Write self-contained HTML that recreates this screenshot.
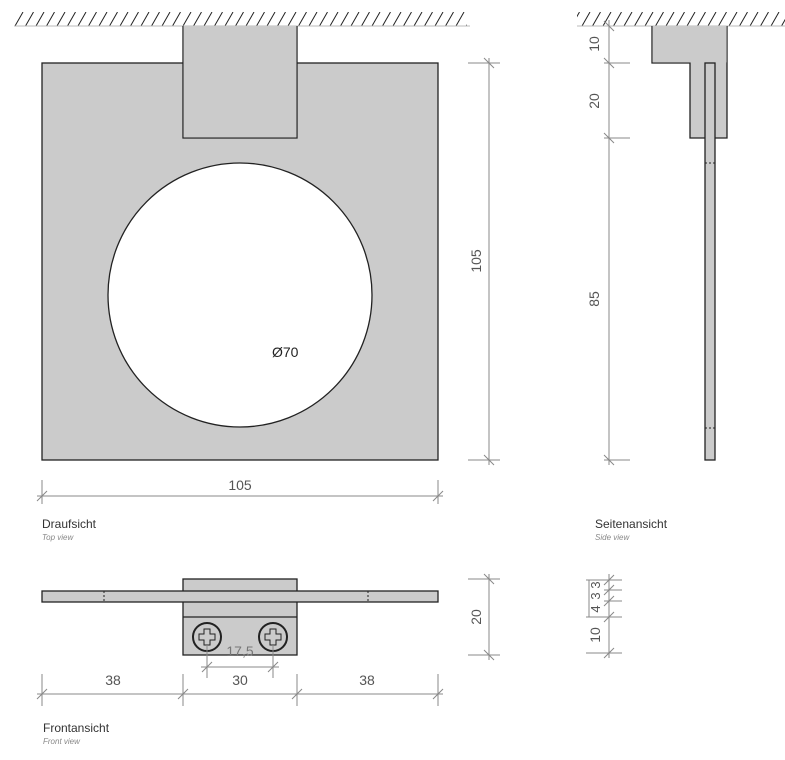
<!DOCTYPE html>
<html><head><meta charset="utf-8"><style>
html,body{margin:0;padding:0;background:#fff}
svg{display:block}
text{font-family:"Liberation Sans",sans-serif;fill:#555}
</style></head><body>
<svg width="785" height="760" viewBox="0 0 785 760" xmlns="http://www.w3.org/2000/svg">
<defs>
<pattern id="h" width="10.5" height="14" patternUnits="userSpaceOnUse" x="14" y="12">
<line x1="1" y1="14" x2="9" y2="0" stroke="#222" stroke-width="1"/>
</pattern>
</defs>
<!-- hatches -->
<rect x="14" y="12" width="453" height="14" fill="url(#h)"/>
<line x1="14" y1="26" x2="470" y2="26" stroke="#bbb"/>
<rect x="577" y="12" width="208" height="14" fill="url(#h)"/>
<line x1="577" y1="26" x2="785" y2="26" stroke="#bbb"/>

<!-- top view -->
<g stroke="#222" stroke-width="1.3" fill="#cbcbcb">
<rect x="42" y="63" width="396" height="397"/>
<path d="M183 26 V138 H297 V26" />
<rect x="183.6" y="26" width="112.8" height="111.4" stroke="none"/>
<circle cx="240" cy="295" r="132" fill="#fff"/>
</g>
<text x="272" y="357" font-size="14" style="fill:#222">Ø70</text>

<g stroke="#888" stroke-width="1" fill="none">
<line x1="489" y1="58" x2="489" y2="465"/>
<line x1="468" y1="63" x2="500" y2="63"/><line x1="468" y1="460" x2="500" y2="460"/>
<line x1="484" y1="58" x2="494" y2="68"/><line x1="484" y1="455" x2="494" y2="465"/>
<line x1="37" y1="496" x2="443" y2="496"/>
<line x1="42" y1="480" x2="42" y2="504"/><line x1="438" y1="480" x2="438" y2="504"/>
<line x1="37" y1="501" x2="47" y2="491"/><line x1="433" y1="501" x2="443" y2="491"/>
</g>
<text x="240" y="490" font-size="14" text-anchor="middle">105</text>
<text transform="translate(481,261) rotate(-90)" font-size="14" text-anchor="middle">105</text>
<text x="42" y="528" font-size="12" style="fill:#333">Draufsicht</text>
<text x="42" y="540" font-size="8" font-style="italic" style="fill:#888">Top view</text>

<!-- side view -->
<g stroke="#222" stroke-width="1.3" fill="#cbcbcb">
<path d="M652 26 V63 H690 V138 H727 V26"/>
<rect x="652.6" y="26" width="74" height="36.4" stroke="none"/>
<rect x="705" y="63" width="10" height="397"/>
</g>
<g stroke="#222" stroke-width="1" stroke-dasharray="2,2">
<line x1="705" y1="163" x2="715" y2="163"/><line x1="705" y1="428" x2="715" y2="428"/>
</g>
<g stroke="#888" stroke-width="1" fill="none">
<line x1="609" y1="20" x2="609" y2="465"/>
<line x1="604" y1="63" x2="630" y2="63"/><line x1="604" y1="138" x2="630" y2="138"/><line x1="604" y1="460" x2="630" y2="460"/>
<line x1="604" y1="21" x2="614" y2="31"/><line x1="604" y1="58" x2="614" y2="68"/><line x1="604" y1="133" x2="614" y2="143"/><line x1="604" y1="455" x2="614" y2="465"/>
</g>
<text transform="translate(599,44) rotate(-90)" font-size="14" text-anchor="middle">10</text>
<text transform="translate(599,101) rotate(-90)" font-size="14" text-anchor="middle">20</text>
<text transform="translate(599,299) rotate(-90)" font-size="14" text-anchor="middle">85</text>
<text x="595" y="528" font-size="12" style="fill:#333">Seitenansicht</text>
<text x="595" y="540" font-size="8" font-style="italic" style="fill:#888">Side view</text>

<!-- front view -->
<g stroke="#222" stroke-width="1.3" fill="#cbcbcb">
<rect x="183" y="579" width="114" height="76"/>
<rect x="42" y="591" width="396" height="11"/>
<line x1="183" y1="617" x2="297" y2="617"/>
<circle cx="207" cy="637" r="14" stroke-width="2"/>
<circle cx="273" cy="637" r="14" stroke-width="2"/>
</g>
<g stroke="#222" stroke-width="1" fill="none">
<path d="M204 629h6v5h5v6h-5v5h-6v-5h-5v-6h5z"/>
<path d="M270 629h6v5h5v6h-5v5h-6v-5h-5v-6h5z"/>
</g>
<g stroke="#222" stroke-width="1" stroke-dasharray="2,2">
<line x1="104" y1="591" x2="104" y2="602"/><line x1="368" y1="591" x2="368" y2="602"/>
</g>
<text x="240" y="656" font-size="14" text-anchor="middle" style="fill:#777">17,5</text>
<g stroke="#888" stroke-width="1" fill="none">
<line x1="201" y1="667" x2="279" y2="667"/>
<line x1="207" y1="645" x2="207" y2="678"/><line x1="273" y1="645" x2="273" y2="678"/>
<line x1="202" y1="672" x2="212" y2="662"/><line x1="268" y1="672" x2="278" y2="662"/>
<line x1="37" y1="694" x2="443" y2="694"/>
<line x1="42" y1="674" x2="42" y2="706"/><line x1="183" y1="674" x2="183" y2="706"/><line x1="297" y1="674" x2="297" y2="706"/><line x1="438" y1="674" x2="438" y2="706"/>
<line x1="37" y1="699" x2="47" y2="689"/><line x1="178" y1="699" x2="188" y2="689"/><line x1="292" y1="699" x2="302" y2="689"/><line x1="433" y1="699" x2="443" y2="689"/>
<line x1="489" y1="574" x2="489" y2="660"/>
<line x1="468" y1="579" x2="500" y2="579"/><line x1="468" y1="655" x2="500" y2="655"/>
<line x1="484" y1="574" x2="494" y2="584"/><line x1="484" y1="650" x2="494" y2="660"/>
</g>
<text x="113" y="685" font-size="14" text-anchor="middle">38</text>
<text x="240" y="685" font-size="14" text-anchor="middle">30</text>
<text x="367" y="685" font-size="14" text-anchor="middle">38</text>
<text transform="translate(481,617) rotate(-90)" font-size="14" text-anchor="middle">20</text>
<text x="43" y="732" font-size="12" style="fill:#333">Frontansicht</text>
<text x="43" y="744" font-size="8" font-style="italic" style="fill:#888">Front view</text>

<!-- side small dims -->
<g stroke="#888" stroke-width="1" fill="none">
<line x1="609" y1="574" x2="609" y2="658"/>
<line x1="586" y1="580" x2="622" y2="580"/><line x1="604" y1="590" x2="622" y2="590"/><line x1="604" y1="601" x2="622" y2="601"/><line x1="586" y1="617" x2="622" y2="617"/><line x1="586" y1="653" x2="622" y2="653"/>
<line x1="604" y1="585" x2="614" y2="575"/><line x1="604" y1="595" x2="614" y2="585"/><line x1="604" y1="606" x2="614" y2="596"/><line x1="604" y1="622" x2="614" y2="612"/><line x1="604" y1="658" x2="614" y2="648"/>
<line x1="589" y1="580" x2="589" y2="617"/>
</g>
<text transform="translate(600,585) rotate(-90)" font-size="13" text-anchor="middle">3</text>
<text transform="translate(600,596) rotate(-90)" font-size="13" text-anchor="middle">3</text>
<text transform="translate(600,609) rotate(-90)" font-size="13" text-anchor="middle">4</text>
<text transform="translate(600,635) rotate(-90)" font-size="14" text-anchor="middle">10</text>
</svg>
</body></html>
